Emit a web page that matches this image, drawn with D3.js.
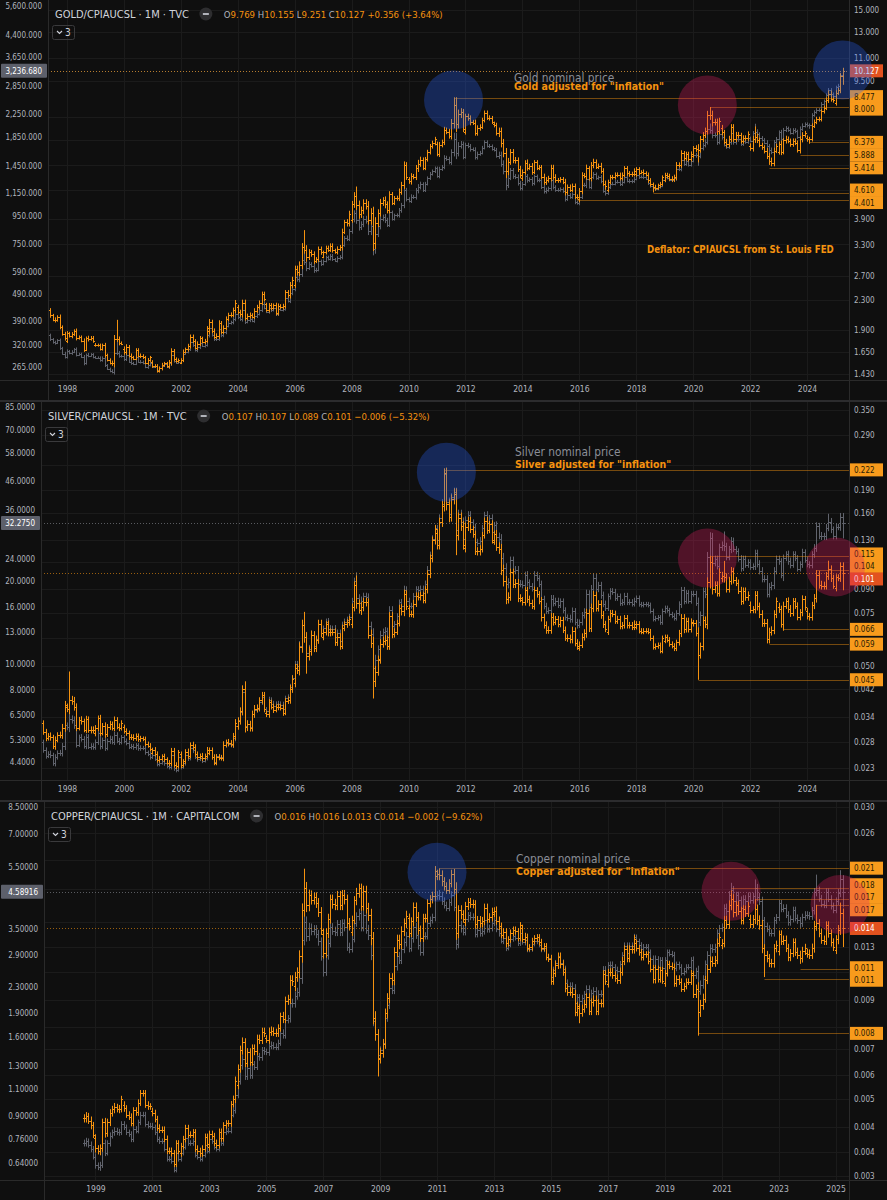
<!DOCTYPE html>
<html>
<head>
<meta charset="utf-8">
<script src="https://cdn.jsdelivr.net/npm/d3@7"></script>
<style>
  html, body { margin: 0; padding: 0; background: #0f0f0f; }
  svg { display: block; }
  text { font-family: "DejaVu Sans Condensed", "Liberation Sans Narrow", "DejaVu Sans", sans-serif; }
</style>
</head>
<body>
<svg id="chart" width="887" height="1200"></svg>
<script>
// monthly closes, nominal USD
const goldStart = '1997-01';
const goldClose = [
  345, 359, 348, 340, 346, 335, 326, 325, 332, 311, 297, 289,
  303, 298, 301, 308, 294, 296, 289, 273, 294, 292, 295, 288,
  287, 287, 280, 287, 269, 261, 256, 255, 299, 299, 291, 290,
  283, 294, 277, 274, 272, 288, 277, 277, 274, 265, 269, 274,
  266, 267, 258, 263, 268, 271, 266, 273, 293, 279, 275, 277,
  282, 297, 302, 308, 327, 319, 305, 313, 324, 317, 318, 347,
  368, 348, 335, 337, 365, 346, 355, 376, 385, 386, 398, 416,
  403, 397, 428, 389, 393, 396, 391, 407, 416, 428, 453, 438,
  422, 435, 428, 436, 414, 434, 430, 433, 473, 464, 496, 513,
  569, 556, 582, 655, 643, 614, 633, 624, 599, 604, 647, 632,
  651, 669, 662, 679, 659, 651, 666, 672, 743, 790, 784, 834,
  923, 972, 916, 865, 886, 928, 913, 833, 872, 719, 815, 870,
  927, 942, 917, 883, 979, 927, 954, 956, 996, 1040, 1181, 1096,
  1081, 1118, 1113, 1179, 1213, 1244, 1181, 1248, 1307, 1357, 1386, 1421,
  1332, 1411, 1439, 1556, 1536, 1500, 1628, 1826, 1620, 1722, 1746, 1564,
  1737, 1710, 1669, 1664, 1561, 1604, 1622, 1692, 1773, 1719, 1712, 1675,
  1663, 1578, 1596, 1476, 1392, 1234, 1312, 1396, 1326, 1323, 1253, 1202,
  1244, 1326, 1284, 1296, 1250, 1327, 1282, 1286, 1210, 1171, 1183, 1199,
  1283, 1213, 1183, 1184, 1191, 1172, 1095, 1135, 1115, 1142, 1065, 1061,
  1118, 1238, 1233, 1294, 1215, 1322, 1351, 1309, 1316, 1277, 1173, 1152,
  1211, 1249, 1249, 1269, 1268, 1242, 1269, 1322, 1280, 1271, 1275, 1303,
  1345, 1318, 1325, 1316, 1299, 1253, 1224, 1201, 1192, 1215, 1223, 1282,
  1321, 1313, 1292, 1284, 1305, 1409, 1413, 1520, 1472, 1513, 1464, 1517,
  1589, 1585, 1577, 1687, 1730, 1781, 1975, 1968, 1886, 1879, 1776, 1898,
  1847, 1734, 1708, 1769, 1907, 1770, 1814, 1813, 1743, 1783, 1774, 1829,
  1796, 1909, 1937, 1897, 1838, 1807, 1766, 1711, 1660, 1633, 1769, 1824,
  1928, 1827, 1969, 1990, 1963, 1919, 1965, 1940, 1849, 1984, 2036, 2063,
  2040, 2044, 2230, 2286, 2327, 2326, 2448, 2503, 2635, 2744, 2657, 2625,
  2813, 2858, 3124, 3236.68
];
// monthly wick size beyond open/close, total percent (one digit per month, one string per year)
const goldWickPct = [
  '232323232323', '323232232322', '222232235432', '332322232232', '222232234322', '232333233232',
  '433343333334', '334433233333', '233233233344', '445556434333', '233332334344', '456655566885',
  '545443334454', '343454333333', '343434576654', '334344333333', '335566544444', '434343333443',
  '443333433333', '443534433434', '333333333333', '332323323232', '333334343333', '346444566454',
  '434444443333', '345433344443', '343433333443', '333333333443', '3344'
];
// [month, high, low] where the bar reaches notably past its open/close
const goldWicks = [
  ['1999-10', 338, null], ['2006-05', 730, null], ['2008-03', 1033, null], ['2008-10', null, 681],
  ['2011-08', 1920, null], ['2011-09', 1921, 1535], ['2013-06', null, 1180], ['2015-12', null, 1046],
  ['2016-07', 1375, null], ['2018-08', null, 1160], ['2020-03', null, 1451], ['2020-08', 2075, null],
  ['2022-03', 2070, null], ['2022-09', null, 1615], ['2023-10', null, 1810], ['2024-02', null, 1984],
  ['2025-04', 3245, 2957]
];

const silverStart = '1997-01';
const silverClose = [
  4.77, 5.2, 4.85, 4.64, 4.72, 4.66, 4.35, 4.58, 4.75, 4.75, 5.01, 5.97,
  5.88, 6.3, 6.25, 5.98, 5.09, 5.42, 5.35, 5.02, 5.44, 5.0, 5.02, 5.0,
  5.18, 5.6, 5.01, 5.29, 4.95, 5.25, 5.35, 5.2, 5.53, 5.25, 5.2, 5.4,
  5.25, 5.16, 5.0, 5.02, 4.97, 5.05, 4.93, 4.96, 4.93, 4.77, 4.69, 4.58,
  4.68, 4.53, 4.33, 4.37, 4.45, 4.35, 4.24, 4.22, 4.65, 4.17, 4.12, 4.6,
  4.22, 4.36, 4.68, 4.55, 4.93, 4.86, 4.6, 4.5, 4.55, 4.45, 4.55, 4.76,
  4.85, 4.6, 4.41, 4.61, 4.58, 4.57, 5.06, 5.15, 5.13, 5.07, 5.39, 5.96,
  6.23, 6.69, 7.91, 5.93, 6.06, 5.88, 6.56, 6.81, 6.87, 7.26, 7.56, 6.82,
  6.75, 7.4, 7.15, 7.0, 7.15, 7.15, 7.1, 6.85, 7.5, 7.55, 8.2, 8.83,
  9.93, 9.77, 11.6, 13.77, 12.52, 10.88, 11.29, 12.73, 11.54, 12.29, 13.9, 12.92,
  13.4, 14.2, 13.37, 13.38, 13.39, 12.44, 12.9, 12.08, 13.84, 14.2, 14.43, 14.78,
  16.8, 19.88, 17.32, 16.52, 16.82, 17.53, 17.44, 13.64, 12.85, 9.6, 10.3, 11.3,
  12.7, 13.0, 13.1, 12.49, 15.67, 13.64, 13.92, 14.85, 16.65, 16.22, 18.5, 16.9,
  16.2, 16.2, 17.5, 18.6, 18.4, 18.7, 18.0, 19.5, 21.9, 24.7, 28.3, 30.9,
  28.1, 33.7, 37.9, 48.6, 38.4, 34.9, 40.0, 41.7, 30.4, 34.7, 32.7, 28.2,
  33.0, 34.6, 32.5, 31.2, 27.5, 27.4, 27.9, 31.0, 34.6, 32.3, 33.7, 30.0,
  31.8, 28.8, 28.3, 24.2, 22.2, 19.4, 19.7, 23.7, 21.7, 21.9, 19.5, 19.5,
  19.2, 21.0, 19.7, 19.1, 18.7, 21.0, 20.4, 19.4, 17.1, 16.2, 15.5, 15.6,
  17.2, 16.6, 16.9, 16.3, 16.8, 15.6, 14.7, 14.6, 14.5, 15.5, 14.1, 13.8,
  14.1, 15.0, 15.4, 17.9, 16.0, 18.7, 20.5, 18.7, 19.2, 17.7, 16.5, 15.9,
  17.5, 18.3, 18.2, 17.3, 17.5, 16.6, 16.7, 17.6, 16.7, 16.7, 16.5, 16.9,
  17.3, 16.4, 16.3, 16.4, 16.4, 16.3, 15.5, 14.5, 14.6, 14.7, 14.1, 15.5,
  15.9, 15.6, 15.1, 14.9, 14.6, 15.3, 16.4, 18.4, 16.9, 18.0, 16.9, 17.9,
  17.9, 16.6, 14.1, 15.0, 18.3, 17.8, 24.4, 28.6, 23.2, 23.9, 22.6, 26.4,
  26.9, 26.6, 24.4, 25.9, 27.9, 26.0, 25.5, 24.0, 22.2, 24.0, 22.8, 23.3,
  22.4, 22.5, 25.1, 23.0, 21.7, 20.3, 20.3, 17.9, 19.0, 19.2, 21.7, 23.9,
  23.5, 20.9, 24.1, 24.9, 23.5, 22.8, 24.9, 24.1, 22.1, 22.9, 25.3, 23.8,
  22.9, 22.7, 24.9, 26.3, 31.4, 29.1, 28.9, 28.9, 31.1, 32.7, 30.6, 28.9,
  31.3, 31.2, 34.1, 32.275
];
const silverWickPct = [
  '454545454566', '586654545455', '545454545454', '444444443434', '344434344443', '434545443434',
  '444444545456', '566865565555', '454545454566', '668888776666', '556656665555', '668686668996',
  '767666555676', '556555556666', '668898788887', '766566655656', '567888766666', '556556556655',
  '665555556656', '556766766665', '555555555555', '444444444444', '444444566555', '559666898666',
  '686665556555', '556666666666', '656566555565', '555676666665', '5566'
];
const silverWicks = [
  ['1998-02', 7.81, null], ['2004-04', 8.4, null], ['2006-05', 15.2, null], ['2006-06', null, 9.5],
  ['2008-03', 21.4, null], ['2008-10', null, 8.4], ['2011-04', 49.8, null], ['2011-09', null, 26.1],
  ['2020-03', null, 11.64], ['2020-08', 29.9, null], ['2021-02', 30.1, null], ['2022-09', null, 17.56],
  ['2023-03', null, 19.9], ['2024-05', 32.5, null], ['2024-10', 34.9, null], ['2025-04', 34.2, 28.4]
];

const copperStart = '1998-08';
const copperClose = [
  0.74, 0.75, 0.73, 0.71, 0.67,
  0.63, 0.62, 0.63, 0.74, 0.69, 0.74, 0.78, 0.8, 0.81, 0.8, 0.8, 0.85,
  0.83, 0.8, 0.79, 0.76, 0.82, 0.81, 0.86, 0.91, 0.91, 0.85, 0.84, 0.84,
  0.83, 0.8, 0.76, 0.75, 0.75, 0.71, 0.66, 0.66, 0.65, 0.61, 0.69, 0.66,
  0.69, 0.72, 0.77, 0.74, 0.74, 0.75, 0.68, 0.67, 0.66, 0.68, 0.73, 0.7,
  0.76, 0.75, 0.72, 0.71, 0.77, 0.74, 0.8, 0.81, 0.81, 0.91, 0.94, 1.05,
  1.16, 1.3, 1.36, 1.2, 1.28, 1.21, 1.31, 1.29, 1.39, 1.38, 1.45, 1.44,
  1.43, 1.5, 1.51, 1.49, 1.49, 1.53, 1.65, 1.62, 1.81, 1.83, 2.05, 2.04,
  2.16, 2.22, 2.45, 3.24, 3.69, 3.33, 3.54, 3.45, 3.5, 3.38, 3.2, 2.87,
  2.57, 2.89, 3.16, 3.55, 3.46, 3.43, 3.63, 3.43, 3.65, 3.55, 3.08, 3.03,
  3.26, 3.67, 3.84, 3.94, 3.55, 3.89, 3.49, 3.35, 2.91, 1.8, 1.63, 1.4,
  1.45, 1.53, 1.84, 2.02, 2.28, 2.25, 2.67, 2.88, 2.8, 3.03, 3.18, 3.33,
  3.05, 3.27, 3.56, 3.36, 3.11, 2.96, 3.34, 3.33, 3.65, 3.74, 3.82, 4.44,
  4.5, 4.46, 4.3, 4.17, 4.09, 4.25, 4.5, 4.11, 3.14, 3.61, 3.52, 3.43,
  3.78, 3.87, 3.83, 3.82, 3.38, 3.47, 3.4, 3.45, 3.74, 3.5, 3.53, 3.65,
  3.73, 3.51, 3.4, 3.22, 3.27, 3.06, 3.13, 3.26, 3.32, 3.29, 3.16, 3.41,
  3.19, 3.23, 3.02, 3.03, 3.15, 3.2, 3.22, 3.13, 3.02, 3.05, 2.86, 2.83,
  2.48, 2.6, 2.73, 2.87, 2.74, 2.62, 2.37, 2.32, 2.32, 2.29, 2.05, 2.13,
  2.07, 2.12, 2.18, 2.27, 2.09, 2.2, 2.24, 2.09, 2.19, 2.19, 2.61, 2.51,
  2.7, 2.7, 2.66, 2.6, 2.58, 2.71, 2.89, 3.1, 2.94, 3.1, 3.1, 3.3,
  3.2, 3.12, 3.03, 3.08, 3.08, 2.96, 2.82, 2.65, 2.82, 2.65, 2.8, 2.63,
  2.8, 2.96, 2.93, 2.91, 2.63, 2.71, 2.66, 2.55, 2.59, 2.66, 2.66, 2.8,
  2.5, 2.58, 2.24, 2.34, 2.43, 2.72, 2.91, 3.06, 3.02, 3.07, 3.41, 3.52,
  3.56, 4.09, 4.0, 4.48, 4.65, 4.29, 4.48, 4.33, 4.09, 4.37, 4.28, 4.46,
  4.32, 4.45, 4.72, 4.42, 4.3, 3.73, 3.58, 3.51, 3.41, 3.4, 3.73, 3.81,
  4.22, 4.06, 4.09, 3.89, 3.68, 3.77, 4.02, 3.8, 3.73, 3.65, 3.82, 3.89,
  3.87, 3.84, 4.01, 4.58, 4.65, 4.38, 4.21, 4.18, 4.59, 4.37, 4.14, 4.03,
  4.3, 4.55, 5.03, 4.58916
];
const copperWickPct = [
  '55454', '545454545454', '444444444444', '444444444444', '444444444444', '444444444445',
  '556555555555', '455455455566', '667888766666', '766666666666', '556666678886', '666666666666',
  '656665555556', '566555568665', '555555555555', '455455444444', '454444444444', '555555555555',
  '555555555555', '455455555555', '444444455444', '444444444444', '558665555555', '556666555555',
  '556666555555', '555555555555', '555665555555', '5666'
];
const copperWicks = [
  ['2006-05', 4.16, null], ['2008-12', null, 1.26], ['2011-02', 4.65, null], ['2016-01', null, 1.94],
  ['2020-03', null, 1.94], ['2021-05', 4.9, null], ['2022-03', 5.02, null], ['2022-07', null, 3.13],
  ['2023-10', null, 3.53], ['2024-05', 5.2, null], ['2025-03', 5.37, null], ['2025-04', 5.12, 4.1]
];

// CPIAUCSL, yearly
const cpiYears = [1997, 1998, 1999, 2000, 2001, 2002, 2003, 2004, 2005, 2006, 2007, 2008, 2009, 2010,
  2011, 2012, 2013, 2014, 2015, 2016, 2017, 2018, 2019, 2020, 2021, 2022, 2023, 2024, 2025];
const cpiValues = [160.5, 163.0, 166.6, 172.2, 177.0, 179.9, 184.0, 188.9, 195.3, 201.6, 207.3, 215.3, 214.5, 218.1,
  224.9, 229.6, 233.0, 236.7, 237.0, 240.0, 245.1, 251.1, 255.7, 258.8, 271.0, 292.7, 304.7, 313.7, 319.6];

// horizontal levels drawn on the adjusted series
const goldLevels = [['2011-08', 8.477], ['2020-08', 8.0], ['2024-02', 6.379], ['2023-10', 5.888],
  ['2022-09', 5.414], ['2018-08', 4.61], ['2015-12', 4.401]];
const silverLevels = [['2011-04', 0.222], ['2020-08', 0.115], ['2024-05', 0.104], ['2023-03', 0.066],
  ['2022-09', 0.059], ['2020-03', 0.045]];
const copperLevels = [['2011-02', 0.0207], ['2021-05', 0.0183], ['2022-03', 0.0172], ['2024-05', 0.0166],
  ['2023-10', 0.0112], ['2022-07', 0.0106], ['2020-03', 0.0076]];

// highlight circles [month, adjusted value, colour]
const goldCircles = [['2011-08', 8.39, 'blue'], ['2020-07', 8.12, 'red'], ['2025-04', 10.19, 'blue']];
const silverCircles = [['2011-05', 0.218, 'blue'], ['2020-07', 0.1135, 'red'], ['2025-01', 0.106, 'red']];
const copperCircles = [['2011-01', 0.0202, 'blue'], ['2021-05', 0.018, 'red'], ['2025-03', 0.0166, 'red']];

// axis ticks
const goldLeftTicks = [5600, 4400, 3650, 2850, 2250, 1850, 1450, 1150, 950, 750, 590, 490, 390, 320, 265];
const goldRightTicks = [15, 13, 11, 9.5, 7.5, 6.5, 5.5, 4.7, 3.9, 3.3, 2.7, 2.3, 1.9, 1.65, 1.43];
const silverLeftTicks = [85, 70, 58, 46, 36, 30, 24, 20, 16, 13, 10, 8, 6.5, 5.3, 4.4];
const silverRightTicks = [0.35, 0.29, 0.23, 0.19, 0.16, 0.13, 0.11, 0.09, 0.075, 0.062, 0.05, 0.042, 0.034, 0.028, 0.023];
const copperLeftTicks = [8.5, 7, 5.5, 4.5, 3.5, 2.9, 2.3, 1.9, 1.6, 1.3, 1.1, 0.9, 0.76, 0.64];
const copperRightTicks = [0.03, 0.0256, 0.0218, 0.0182, 0.0149, 0.0128, 0.011, 0.0093, 0.0079, 0.0069,
  0.0059, 0.0051, 0.0043, 0.0037, 0.0032];
const evenYears = [1998, 2000, 2002, 2004, 2006, 2008, 2010, 2012, 2014, 2016, 2018, 2020, 2022, 2024];
const oddYears = [1999, 2001, 2003, 2005, 2007, 2009, 2011, 2013, 2015, 2017, 2019, 2021, 2023, 2025];

// legend texts
const goldOHLC = [['O', '9.769'], ['H', '10.155'], ['L', '9.251'], ['C', '10.127']];
const silverOHLC = [['O', '0.107'], ['H', '0.107'], ['L', '0.089'], ['C', '0.101']];
const copperOHLC = [['O', '0.016'], ['H', '0.016'], ['L', '0.013'], ['C', '0.014']];

const W = 887, H = 1200, RIGHT = 849;
const GRAY = '#60636c', ORANGE = '#f5920f', AXIS_TXT = '#b2b5be';
const FONT = '"DejaVu Sans Condensed", "Liberation Sans Narrow", "DejaVu Sans", sans-serif';

const panels = [
  { key: 'gold', top: 0, bottom: 380, axisL: 48,
    title: 'GOLD/CPIAUCSL · 1M · TVC', ohlc: goldOHLC, change: '+0.356 (+3.64%)',
    closes: goldClose, start: goldStart, wicks: goldWicks, wickPct: goldWickPct,
    left: { ticks: goldLeftTicks, fmt: d3.format(',.3f'), dom: [265, 5600], rng: [367, 6] },
    right: { ticks: goldRightTicks, fmt: d3.format('.3f'), dom: [1.43, 15], rng: [374, 10] },
    years: evenYears, levels: goldLevels, circles: goldCircles,
    notes: ['Gold nominal price', 'Gold adjusted for "inflation"'], noteX: 514, noteY: [82, 89.5],
    extra: { text: 'Deflator: CPIAUCSL from St. Louis FED', x: 647, y: 253 } },
  { key: 'silver', top: 402, bottom: 780, axisL: 41,
    title: 'SILVER/CPIAUCSL · 1M · TVC', ohlc: silverOHLC, change: '\u22120.006 (\u22125.32%)',
    closes: silverClose, start: silverStart, wicks: silverWicks, wickPct: silverWickPct,
    left: { ticks: silverLeftTicks, fmt: d3.format('.4f'), dom: [4.4, 85], rng: [762, 407] },
    right: { ticks: silverRightTicks, fmt: d3.format('.3f'), dom: [0.023, 0.35], rng: [768, 410] },
    years: evenYears, levels: silverLevels, circles: silverCircles,
    notes: ['Silver nominal price', 'Silver adjusted for "inflation"'], noteX: 515, noteY: [456, 468] },
  { key: 'copper', top: 802, bottom: 1180, axisL: 44,
    title: 'COPPER/CPIAUCSL · 1M · CAPITALCOM', ohlc: copperOHLC, change: '\u22120.002 (\u22129.62%)',
    closes: copperClose, start: copperStart, wicks: copperWicks, wickPct: copperWickPct,
    left: { ticks: copperLeftTicks, fmt: d3.format('.5f'), dom: [0.64, 8.5], rng: [1163, 807] },
    right: { ticks: copperRightTicks, fmt: d3.format('.3f'), dom: [0.0032, 0.03], rng: [1176, 807] },
    years: oddYears, levels: copperLevels, circles: copperCircles,
    notes: ['Copper nominal price', 'Copper adjusted for "inflation"'], noteX: 516, noteY: [863, 875] }
];

const parseM = d3.utcParse('%Y-%m');
const fmtM = d3.utcFormat('%Y-%m');
const x = d3.scaleUtc()
  .domain([new Date(Date.UTC(1998, 0, 1)), new Date(Date.UTC(2024, 0, 1))])
  .range([67, 807]);
const cpiByYear = new Map(cpiYears.map((y, i) => [y, cpiValues[i]]));

function buildBars(closes, start, wicks, wickPct) {
  const s = parseM(start);
  const wk = new Map(wicks.map(w => [w[0], w]));
  const pct = wickPct.join('').split('').map(Number);
  return closes.map((c, i) => {
    const date = d3.utcMonth.offset(s, i);
    const o = i ? closes[i - 1] : c;
    const e = (pct[i] || 0) / 200;
    let h = Math.max(o, c) * (1 + e), l = Math.min(o, c) * (1 - e);
    const w = wk.get(fmtM(date));
    if (w) {
      if (w[1] != null) h = Math.max(h, w[1]);
      if (w[2] != null) l = Math.min(l, w[2]);
    }
    return { date, o, h, l, c };
  });
}

function deflate(bars) {
  return bars.map(d => {
    const k = cpiByYear.get(d.date.getUTCFullYear());
    return { date: d.date, o: d.o / k, h: d.h / k, l: d.l / k, c: d.c / k };
  });
}

function drawBars(g, bars, y, color) {
  g.selectAll(null).data(bars).join('path')
    .attr('d', d => {
      const xc = Math.round(x(d.date)) + 0.5;
      let yh = y(d.h), yl = y(d.l);
      if (yl - yh < 1) { yl = yh + 1; }
      const yo = Math.round(y(d.o)) + 0.5, yc = Math.round(y(d.c)) + 0.5;
      return `M${xc},${yh}V${yl}M${xc - 1.5},${yo}H${xc}M${xc},${yc}H${xc + 1.5}`;
    })
    .attr('fill', 'none')
    .attr('stroke', color)
    .attr('stroke-width', 1);
}

// pushes overlapping price-scale labels apart, keeping each group centred
function spread(items, gap) {
  items.sort((a, b) => a.t - b.t);
  const groups = items.map(d => ({ list: [d] }));
  const place = gr => { gr.y0 = d3.mean(gr.list, d => d.t) - (gr.list.length - 1) * gap / 2; };
  groups.forEach(place);
  let changed = true;
  while (changed) {
    changed = false;
    for (let i = 1; i < groups.length; i++) {
      const a = groups[i - 1], b = groups[i];
      if (a.y0 + a.list.length * gap > b.y0) {
        a.list = a.list.concat(b.list);
        place(a);
        groups.splice(i, 1);
        changed = true;
        break;
      }
    }
  }
  groups.forEach(gr => gr.list.forEach((d, k) => { d.y = gr.y0 + k * gap; }));
  return items;
}

const svg = d3.select('#chart');
svg.append('rect').attr('width', W).attr('height', H).attr('fill', '#0f0f0f');
const defs = svg.append('defs');
const circleLayer = [];

panels.forEach(p => {
  const yL = d3.scaleLog().domain(p.left.dom).range(p.left.rng);
  const yR = d3.scaleLog().domain(p.right.dom).range(p.right.rng);
  const g = svg.append('g').attr('class', 'panel-' + p.key);
  const axisBottom = p.bottom + 20;

  defs.append('clipPath').attr('id', 'clip-' + p.key)
    .append('rect').attr('x', p.axisL).attr('y', p.top)
    .attr('width', RIGHT - p.axisL).attr('height', p.bottom - p.top);

  // grid
  const grid = g.append('g').attr('stroke', '#1b1b1b').attr('shape-rendering', 'crispEdges');
  grid.selectAll('.h').data(p.right.ticks).join('line').attr('class', 'h')
    .attr('x1', p.axisL).attr('x2', RIGHT)
    .attr('y1', d => Math.round(yR(d)) + 0.5).attr('y2', d => Math.round(yR(d)) + 0.5);
  grid.selectAll('.v').data(p.years).join('line').attr('class', 'v')
    .attr('x1', d => Math.round(x(new Date(Date.UTC(d, 0, 1)))) + 0.5)
    .attr('x2', d => Math.round(x(new Date(Date.UTC(d, 0, 1)))) + 0.5)
    .attr('y1', p.top).attr('y2', p.bottom);

  // bars
  const nominal = buildBars(p.closes, p.start, p.wicks, p.wickPct);
  const real = deflate(nominal);
  const plot = g.append('g').attr('clip-path', `url(#clip-${p.key})`);
  drawBars(plot.append('g'), nominal, yL, GRAY);
  drawBars(plot.append('g'), real, yR, ORANGE);

  // level lines
  plot.append('g').selectAll('line').data(p.levels).join('line')
    .attr('x1', d => Math.round(x(parseM(d[0]))) + 0.5).attr('x2', RIGHT)
    .attr('y1', d => Math.round(yR(d[1])) + 0.5).attr('y2', d => Math.round(yR(d[1])) + 0.5)
    .attr('stroke', ORANGE).attr('stroke-opacity', 0.45).attr('stroke-width', 1);

  // last-price dotted lines
  const lastN = nominal[nominal.length - 1].c;
  const lastR = real[real.length - 1].c;
  plot.append('line').attr('x1', p.axisL).attr('x2', RIGHT)
    .attr('y1', Math.round(yL(lastN)) + 0.5).attr('y2', Math.round(yL(lastN)) + 0.5)
    .attr('stroke', '#8a8d96').attr('stroke-dasharray', '1,2').attr('stroke-opacity', 0.6);
  plot.append('line').attr('x1', p.axisL).attr('x2', RIGHT)
    .attr('y1', Math.round(yR(lastR)) + 0.5).attr('y2', Math.round(yR(lastR)) + 0.5)
    .attr('stroke', ORANGE).attr('stroke-dasharray', '1,2').attr('stroke-opacity', 0.6);

  // annotation texts
  g.append('text').attr('x', p.noteX).attr('y', p.noteY[0])
    .attr('font-size', 11.8).attr('fill', '#8b8e97').text(p.notes[0]);
  g.append('text').attr('x', p.noteX).attr('y', p.noteY[1])
    .attr('font-size', 10.5).attr('font-weight', 'bold').attr('fill', ORANGE).text(p.notes[1]);
  if (p.extra) {
    g.append('text').attr('x', p.extra.x).attr('y', p.extra.y)
      .attr('font-size', 9.6).attr('font-weight', 'bold').attr('fill', ORANGE).text(p.extra.text);
  }

  // frame lines
  const frame = g.append('g').attr('stroke', '#2a2a2a').attr('shape-rendering', 'crispEdges');
  frame.append('line').attr('x1', p.axisL + 0.5).attr('x2', p.axisL + 0.5).attr('y1', p.top).attr('y2', axisBottom);
  frame.append('line').attr('x1', RIGHT + 0.5).attr('x2', RIGHT + 0.5).attr('y1', p.top).attr('y2', axisBottom);
  frame.append('line').attr('x1', 0).attr('x2', W).attr('y1', p.bottom + 0.5).attr('y2', p.bottom + 0.5);

  // right price-scale labels (levels + last value), spread so they do not overlap
  const labels = p.levels.map(d => ({ t: yR(d[1]), text: p.right.fmt(d[1]), fill: '#f89b1c', color: '#2a1c05' }));
  labels.push({ t: yR(lastR), text: p.right.fmt(lastR), fill: '#e2521f', color: '#ffffff' });
  spread(labels, 12.5);
  const lyN = yL(lastN);

  // axes; tick labels hidden under a price label are dropped, as the boxes cover them
  const styleAxis = sel => {
    sel.select('.domain').remove();
    sel.selectAll('text').attr('fill', AXIS_TXT).attr('font-size', 8).style('font-family', FONT);
  };
  const rightVisible = p.right.ticks.filter(t => labels.every(l => Math.abs(yR(t) - l.y) > 9));
  const leftVisible = p.left.ticks.filter(t => Math.abs(yL(t) - lyN) > 9);
  g.append('g').attr('transform', `translate(${p.axisL},0)`)
    .call(d3.axisLeft(yL).tickValues(leftVisible).tickFormat(p.left.fmt).tickSize(0).tickPadding(6))
    .call(styleAxis);
  g.append('g').attr('transform', `translate(${RIGHT},0)`)
    .call(d3.axisRight(yR).tickValues(rightVisible).tickFormat(p.right.fmt).tickSize(0).tickPadding(5))
    .call(styleAxis);
  g.append('g').attr('transform', `translate(0,${p.bottom})`)
    .call(d3.axisBottom(x).tickValues(p.years.map(d => new Date(Date.UTC(d, 0, 1))))
      .tickFormat(d3.utcFormat('%Y')).tickSize(0).tickPadding(6))
    .call(styleAxis)
    .call(sel => sel.selectAll('text').attr('font-size', 8.5));

  // left last-price marker
  g.append('rect').attr('x', 1).attr('y', lyN - 7).attr('width', p.axisL - 2).attr('height', 14)
    .attr('fill', '#5d606b').attr('rx', 1);
  g.append('text').attr('x', p.axisL - 6).attr('y', lyN + 3).attr('text-anchor', 'end')
    .attr('font-size', 8).attr('fill', '#ffffff').text(p.left.fmt(lastN));

  const lab = g.append('g').selectAll('g').data(labels).join('g');
  lab.append('rect').attr('x', RIGHT + 1).attr('y', d => d.y - 6.5).attr('width', 33).attr('height', 13)
    .attr('fill', d => d.fill);
  lab.append('text').attr('x', RIGHT + 5).attr('y', d => d.y + 3).attr('font-size', 8)
    .attr('fill', d => d.color).text(d => d.text);

  // header
  const hx = p.axisL + 7, hy = p.top + 18;
  const title = g.append('text').attr('x', hx).attr('y', hy).attr('font-size', 11)
    .attr('fill', '#d1d4dc').text(p.title);
  const tEnd = hx + title.node().getComputedTextLength();
  g.append('circle').attr('cx', tEnd + 17).attr('cy', hy - 4).attr('r', 6.5).attr('fill', '#2e2e30');
  g.append('rect').attr('x', tEnd + 14).attr('y', hy - 4.8).attr('width', 6).attr('height', 1.6).attr('fill', '#d1d4dc');
  const ohlc = g.append('text').attr('x', tEnd + 35).attr('y', hy).attr('font-size', 9.5);
  p.ohlc.forEach((d, i) => {
    ohlc.append('tspan').attr('fill', AXIS_TXT).text((i ? ' ' : '') + d[0]);
    ohlc.append('tspan').attr('fill', ORANGE).text(d[1]);
  });
  ohlc.append('tspan').attr('fill', ORANGE).text(' ' + p.change);

  // collapsed indicators button
  const bx = p.axisL + 4, by = p.top + 25;
  g.append('rect').attr('x', bx + 0.5).attr('y', by + 0.5).attr('width', 22).attr('height', 14).attr('rx', 2)
    .attr('fill', 'none').attr('stroke', '#3a3a3c');
  g.append('path').attr('d', `M${bx + 5},${by + 6} l2.5,2.5 l2.5,-2.5`).attr('fill', 'none')
    .attr('stroke', '#d1d4dc').attr('stroke-width', 1.1);
  g.append('text').attr('x', bx + 13).attr('y', by + 11).attr('font-size', 10).attr('fill', '#d1d4dc').text('3');

  p.circles.forEach(c => circleLayer.push({ cx: x(parseM(c[0])), cy: yR(c[1]), color: c[2] }));
});

// panel separators
svg.append('g').selectAll('rect').data([400, 800]).join('rect')
  .attr('x', 0).attr('y', d => d).attr('width', W).attr('height', 2).attr('fill', '#2c2c2e');

// highlight circles on top of everything
svg.append('g').selectAll('circle').data(circleLayer).join('circle')
  .attr('cx', d => d.cx).attr('cy', d => d.cy).attr('r', 29.5)
  .attr('fill', d => d.color === 'blue' ? 'rgba(41,98,255,0.3)' : 'rgba(233,30,99,0.3)');
</script>
</body>
</html>
